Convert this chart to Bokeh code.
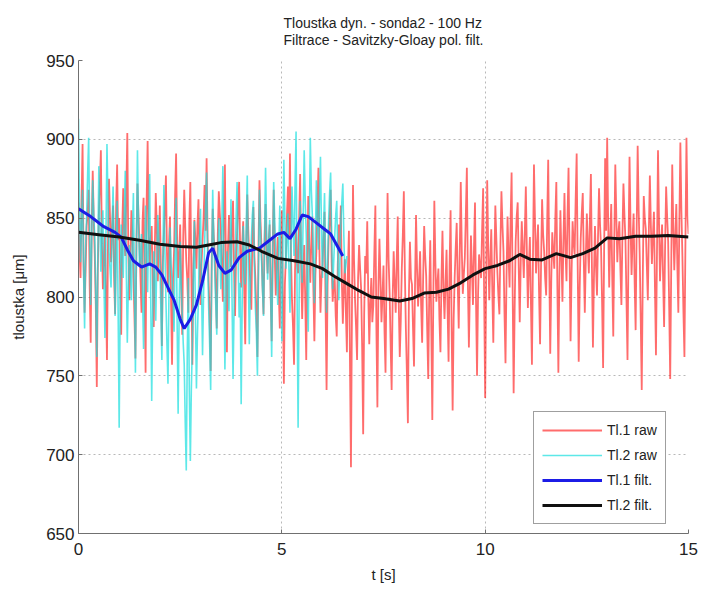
import numpy as np
from bokeh.plotting import figure
from bokeh.models import Range1d, FixedTicker, Legend, LegendItem
from bokeh.embed import file_html
from bokeh.resources import INLINE

# sampling step of the raw records as drawn (s)
dt = 0.025

# Tl.1 raw (red), 0 .. 15 s, one row per second
tl1_raw = [
    860, 829, 812, 861, 897, 822, 790, 818, 845, 853, 868, 807, 771, 846, 880, 849, 826, 795, 743, 817, 852, 871, 893, 834, 805, 826, 838, 802, 760, 833, 875, 851, 822, 844, 858, 813, 789, 857, 884, 836,
    850, 812, 776, 843, 869, 837, 826, 865, 904, 829, 798, 824, 855, 840, 815, 788, 761, 835, 872, 852, 834, 811, 790, 848, 863, 806, 752, 860, 899, 842, 820, 837, 845, 809, 781, 829, 866, 845, 810, 831,
    858, 818, 769, 822, 840, 856, 877, 828, 803, 834, 851, 800, 757, 812, 829, 864, 891, 836, 812, 827, 846, 809, 776, 838, 868, 844, 823, 811, 790, 847, 873, 815, 757, 820, 849, 836, 818, 845, 862, 826,
    795, 821, 835, 850, 871, 842, 888, 837, 810, 786, 753, 822, 856, 839, 828, 805, 780, 839, 867, 853, 842, 818, 797, 851, 884, 820, 765, 829, 852, 833, 819, 846, 861, 817, 788, 826, 840, 857, 873, 830,
    806, 833, 848, 805, 770, 831, 865, 842, 824, 808, 792, 838, 857, 826, 811, 790, 762, 829, 874, 848, 832, 807, 789, 835, 859, 830, 815, 834, 846, 801, 772, 833, 868, 827, 801, 822, 838, 803, 780, 829,
    855, 801, 745, 808, 826, 851, 870, 838, 891, 826, 798, 781, 757, 817, 842, 822, 815, 849, 878, 820, 786, 813, 833, 799, 760, 822, 864, 830, 809, 836, 851, 806, 772, 814, 829, 857, 882, 828, 790, 812,
    820, 839, 854, 796, 741, 808, 836, 849, 868, 822, 797, 809, 812, 788, 775, 820, 846, 829, 858, 811, 783, 806, 824, 790, 765, 817, 842, 760, 692, 795, 871, 824, 798, 781, 760, 812, 833, 818, 805, 768,
    713, 789, 826, 815, 848, 802, 770, 796, 812, 784, 795, 829, 858, 781, 730, 806, 837, 812, 784, 801, 820, 778, 752, 817, 866, 824, 803, 770, 741, 799, 829, 808, 790, 823, 851, 796, 762, 785, 818, 839,
    867, 817, 780, 752, 720, 801, 835, 812, 808, 781, 756, 807, 852, 818, 794, 810, 829, 795, 771, 812, 845, 826, 813, 779, 748, 803, 836, 781, 722, 800, 861, 823, 797, 808, 818, 786, 765, 811, 842, 806,
    786, 808, 830, 793, 759, 820, 855, 781, 728, 786, 812, 831, 847, 808, 780, 829, 873, 830, 802, 814, 825, 853, 882, 810, 768, 806, 839, 817, 795, 831, 860, 798, 750, 801, 827, 819, 812, 843, 869, 800,
    736, 811, 874, 832, 798, 822, 843, 805, 771, 819, 858, 837, 816, 801, 789, 833, 867, 846, 829, 790, 758, 813, 851, 827, 806, 848, 879, 806, 739, 792, 835, 851, 860, 819, 784, 822, 848, 830, 812, 841,
    870, 829, 793, 819, 838, 796, 757, 824, 884, 849, 815, 832, 846, 803, 770, 822, 862, 840, 829, 812, 801, 848, 887, 822, 764, 810, 841, 828, 818, 850, 873, 808, 752, 813, 855, 826, 797, 836, 866, 830,
    810, 851, 882, 826, 772, 815, 848, 834, 827, 862, 891, 820, 759, 806, 837, 853, 866, 823, 790, 825, 853, 832, 815, 849, 878, 819, 768, 812, 845, 820, 801, 838, 869, 846, 831, 797, 755, 829, 888, 842,
    901, 847, 806, 838, 859, 812, 775, 836, 884, 851, 822, 840, 848, 818, 795, 839, 872, 852, 836, 798, 760, 831, 889, 845, 814, 837, 853, 810, 779, 842, 896, 855, 827, 786, 741, 811, 864, 850, 843, 820,
    798, 842, 877, 845, 821, 839, 854, 806, 763, 829, 893, 848, 810, 830, 846, 812, 781, 833, 870, 851, 835, 794, 748, 818, 884, 846, 817, 838, 859, 821, 790, 847, 898, 855, 826, 791, 762, 836, 901, 852,
    840,
]

# Tl.2 raw (cyan), 0 .. 6.6 s, one row per second
tl2_raw = [
    913, 856, 822, 849, 868, 815, 780, 832, 851, 878, 901, 840, 795, 836, 874, 852, 838, 801, 762, 826, 883, 848, 816, 843, 855, 812, 774, 838, 897, 861, 829, 818, 806, 841, 870, 832, 788, 825, 861, 790,
    717, 795, 846, 830, 812, 851, 880, 818, 771, 806, 833, 820, 798, 839, 866, 810, 752, 832, 893, 847, 819, 826, 840, 801, 767, 820, 858, 829, 803, 846, 878, 803, 734, 790, 829, 811, 785, 823, 852, 837,
    822, 793, 760, 826, 871, 829, 798, 770, 745, 805, 844, 821, 812, 797, 778, 828, 863, 784, 726, 790, 835, 808, 790, 771, 757, 720, 690, 765, 812, 741, 696, 742, 770, 815, 848, 790, 742, 776, 801, 834,
    856, 808, 763, 801, 832, 857, 879, 826, 794, 770, 741, 815, 868, 838, 817, 795, 776, 820, 850, 829, 805, 847, 883, 812, 754, 798, 829, 808, 791, 830, 862, 800, 748, 792, 820, 849, 873, 823, 787, 809,
    732, 796, 845, 827, 808, 846, 877, 819, 770, 807, 836, 852, 861, 820, 793, 777, 750, 814, 868, 841, 824, 805, 788, 839, 882, 843, 811, 832, 849, 803, 762, 821, 873, 848, 830, 812, 795, 829, 858, 818,
    772, 834, 887, 849, 818, 836, 853, 817, 790, 835, 870, 846, 826, 871, 905, 800, 717, 798, 861, 834, 809, 852, 893, 861, 840, 805, 778, 843, 901, 868, 852, 821, 796, 838, 874, 851, 830, 862, 889, 842,
    812, 843, 866, 824, 790, 821, 848, 866, 879, 840, 805, 822, 838, 852, 861, 826, 798, 820, 846, 860, 872, 838, 815, 820, 826,
]

# Tl.1 filt. (blue)
tl1_filt_t = [0.0, 0.3, 0.6, 0.9, 1.05, 1.2, 1.35, 1.55, 1.75, 1.9, 2.05, 2.2, 2.35, 2.5, 2.6,
              2.75, 2.9, 3.05, 3.2, 3.3, 3.45, 3.6, 3.75, 3.95, 4.15, 4.45, 4.7, 4.9, 5.05, 5.2,
              5.35, 5.5, 5.65, 5.85, 6.05, 6.2, 6.35, 6.5]
tl1_filt = [856, 851, 845, 841, 838, 830, 823, 819, 821, 819, 814, 806, 798, 786, 780,
            786, 795, 810, 828, 831, 820, 815, 817, 825, 829, 831, 836, 840, 841, 837,
            843, 852, 851, 847, 843, 840, 833, 826]

# Tl.2 filt. (black)
tl2_filt_t = [0.0, 0.5, 1.0, 1.5, 2.0, 2.5, 2.9, 3.2, 3.5, 3.9, 4.2, 4.5, 4.9, 5.3, 5.7, 6.0,
              6.3, 6.6, 6.9, 7.2, 7.5, 7.9, 8.2, 8.5, 8.8, 9.1, 9.4, 9.7, 10.0, 10.3, 10.6,
              10.85, 11.1, 11.4, 11.75, 12.1, 12.4, 12.7, 13.0, 13.3, 13.7, 14.1, 14.5, 15.0]
tl2_filt = [841, 839.5, 838, 836, 833.5, 832, 831.5, 833, 834.5, 835, 833, 829, 824.5, 823, 821, 818,
            813, 808.5, 804, 800, 799, 797.5, 799, 802.5, 803, 805, 809, 814, 818, 820, 823,
            827, 824, 823.5, 827.5, 825, 827.5, 831, 837.5, 837, 838.5, 838.5, 839, 838]

x_ticks = [0, 5, 10, 15]
y_ticks = [650, 700, 750, 800, 850, 900, 950]
title_lines = ["Tloustka dyn. - sonda2 - 100 Hz", "Filtrace - Savitzky-Gloay pol. filt."]

t1 = np.arange(len(tl1_raw)) * dt
t2 = np.arange(len(tl2_raw)) * dt

FONT = "Liberation Sans"
TXT = "#222222"

p = figure(width=702, height=591, output_backend="svg", toolbar_location=None,
           x_range=Range1d(0, 15), y_range=Range1d(650, 950),
           min_border_left=78, min_border_right=14, min_border_top=60, min_border_bottom=58,
           title="\n".join(title_lines))
p.title.align = "center"
p.title.text_font = FONT
p.title.text_font_size = "14px"
p.title.text_font_style = "normal"
p.title.text_color = TXT
p.title.text_line_height = 1.1
p.title.standoff = 24

p.outline_line_color = None
p.background_fill_color = "white"
p.border_fill_color = "white"

r1 = p.line(t1, tl1_raw, line_color="#ff1212", line_width=1.8, line_alpha=0.62)
r2 = p.line(t2, tl2_raw, line_color="#18dede", line_width=1.6, line_alpha=0.7)
r3 = p.line(tl1_filt_t, tl1_filt, line_color="#1c1ce6", line_width=3)
r4 = p.line(tl2_filt_t, tl2_filt, line_color="#101010", line_width=3)

for ax in (p.xaxis[0], p.yaxis[0]):
    ax.axis_line_color = "#707070"
    ax.major_tick_line_color = "#707070"
    ax.major_tick_in = 4
    ax.major_tick_out = 0
    ax.minor_tick_line_color = None
    ax.major_label_text_font = FONT
    ax.major_label_text_font_size = "17px"
    ax.major_label_text_color = TXT
    ax.axis_label_text_font = FONT
    ax.axis_label_text_font_size = "15px"
    ax.axis_label_text_font_style = "normal"
    ax.axis_label_text_color = TXT

p.xaxis.ticker = FixedTicker(ticks=x_ticks)
p.yaxis.ticker = FixedTicker(ticks=y_ticks)
p.xaxis.axis_label = "t [s]"
p.yaxis.axis_label = "tloustka [μm]"
p.xaxis.major_label_standoff = 9
p.yaxis.major_label_standoff = 4
p.xaxis.axis_label_standoff = 8
p.yaxis.axis_label_standoff = 16

for g in (p.xgrid[0], p.ygrid[0]):
    g.grid_line_color = "#b8b8b8"
    g.grid_line_dash = "2 3"
    g.grid_line_width = 1

legend = Legend(items=[
    LegendItem(label="Tl.1 raw", renderers=[r1]),
    LegendItem(label="Tl.2 raw", renderers=[r2]),
    LegendItem(label="Tl.1 filt.", renderers=[r3]),
    LegendItem(label="Tl.2 filt.", renderers=[r4]),
], location=(455, 9))
legend.label_text_font = FONT
legend.label_text_font_size = "14px"
legend.label_text_color = TXT
legend.glyph_width = 60
legend.glyph_height = 20
legend.spacing = 5
legend.padding = 8
legend.margin = 0
legend.label_standoff = 5
legend.border_line_color = "#404040"
legend.border_line_width = 1
legend.background_fill_color = "white"
legend.background_fill_alpha = 1
p.add_layout(legend, "center")

open("out.html", "w").write(file_html(p, INLINE))
